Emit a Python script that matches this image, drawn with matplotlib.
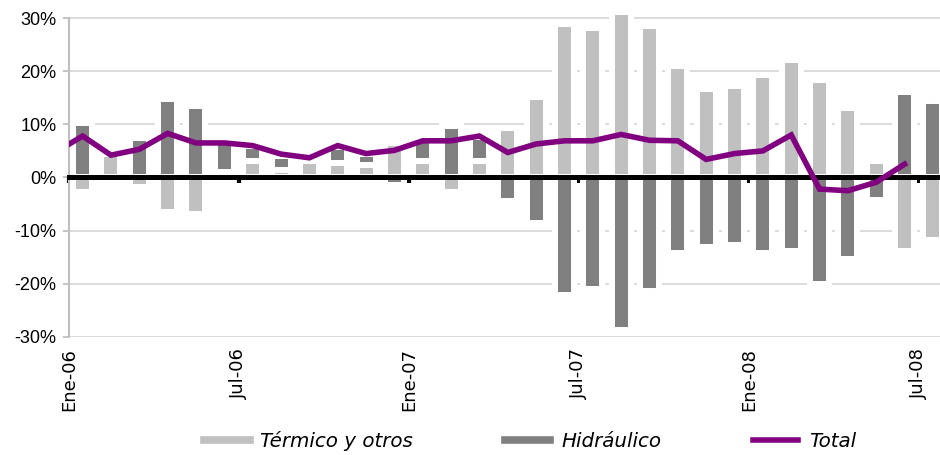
import numpy as np
import matplotlib
matplotlib.use("Agg")
import matplotlib.pyplot as plt
from matplotlib.lines import Line2D

# monthly series, Ene-06 .. Jul-08 (% y/y)
meses = ["Ene-06", "Feb-06", "Mar-06", "Abr-06", "May-06", "Jun-06", "Jul-06",
         "Ago-06", "Sep-06", "Oct-06", "Nov-06", "Dic-06",
         "Ene-07", "Feb-07", "Mar-07", "Abr-07", "May-07", "Jun-07", "Jul-07",
         "Ago-07", "Sep-07", "Oct-07", "Nov-07", "Dic-07",
         "Ene-08", "Feb-08", "Mar-08", "Abr-08", "May-08", "Jun-08", "Jul-08"]
termico = [-2.8, 4.4, -1.8, -6.6, -6.9, 1.0, 3.1, 1.4, 3.1, 2.7, 2.3, 6.5,
           3.1, -2.8, 3.1, 9.3, 15.1, 28.9, 28.2, 36.8, 28.6, 21.0, 16.6, 17.3,
           19.3, 22.1, 18.3, 13.1, 3.1, -13.8, -11.8]
hidraulico = [10.3, -0.2, 7.5, 14.8, 13.5, 5.6, 2.8, 2.6, 0.7, 3.1, 2.1, -1.5,
              3.9, 9.6, 4.5, -4.5, -8.6, -22.1, -21.1, -28.7, -21.4, -14.2, -13.1, -12.8,
              -14.2, -13.8, -20.1, -15.3, -4.2, 16.1, 14.4]
# total starts one month earlier (Dic-05), last month not available
total = [4.6,
         7.8, 4.2, 5.3, 8.3, 6.5, 6.5, 6.0, 4.4, 3.7, 6.0, 4.5, 5.1,
         6.9, 6.9, 7.8, 4.7, 6.3, 6.9, 6.9, 8.1, 7.0, 6.9, 3.4, 4.5,
         5.0, 8.0, -2.2, -2.5, -0.9, 2.5, np.nan]
tick_labels = ["Ene-06", "Jul-06", "Ene-07", "Jul-07", "Ene-08", "Jul-08"]
y_ticks = [-30, -20, -10, 0, 10, 20, 30]

LIGHT = "#c0c0c0"
DARK = "#808080"
PURPLE = "#800080"

t = np.array(termico)
h = np.array(hidraulico)
x = np.arange(len(meses)) + 0.48
x_tot = np.arange(len(total)) - 0.52
# excel-like stacking: same sign stacks, opposite signs both start at 0
h_bottom = np.where(np.sign(t) == np.sign(h), t, 0)

fig = plt.figure(figsize=(9.4, 4.55), dpi=100)
ax = fig.add_axes([69 / 940, 1 - 336.7 / 455, 1 - 69 / 940, (336.7 - 15) / 455])

ax.bar(x, t, width=0.67, color=LIGHT, edgecolor="white", linewidth=4.3, zorder=2)
ax.bar(x, h, width=0.67, bottom=h_bottom, color=DARK, edgecolor="white",
       linewidth=4.3, zorder=2)
ax.plot(x_tot, total, color=PURPLE, lw=4, zorder=4, solid_joinstyle="miter")

ax.set_xlim(0, 30.73)
ax.set_ylim(-30, 30.6)
ax.set_yticks(y_ticks)
ax.set_yticklabels([f"{v}%" for v in y_ticks], family="Liberation Sans",
                   fontsize=13)
ax.yaxis.grid(True, color="#d9d9d9", lw=1.3, zorder=0)
ax.set_axisbelow(True)
ax.tick_params(axis="y", length=4, color="#bfbfbf", width=1.3, pad=5)

for s in ["top", "right"]:
    ax.spines[s].set_visible(False)
ax.spines["left"].set_color("#bfbfbf")
ax.spines["left"].set_linewidth(1.5)
ax.spines["left"].set_bounds(-30, 30)

# category axis crosses at zero, labels at the bottom
ax.spines["bottom"].set_position(("data", 0))
ax.spines["bottom"].set_color("black")
ax.spines["bottom"].set_linewidth(3.6)
ax.spines["bottom"].set_zorder(3)
ticks = np.arange(0, 31, 6)
ax.set_xticks(ticks)
ax.tick_params(axis="x", direction="out", length=4, width=3, color="black",
               labelbottom=False)

sec = ax.secondary_xaxis("bottom")
sec.set_xticks(ticks)
sec.set_xticklabels(tick_labels, rotation=90, fontsize=13, family="DejaVu Sans")
sec.tick_params(length=0, pad=8)
sec.spines["bottom"].set_visible(False)

handles = [Line2D([], [], color=LIGHT, lw=5.5),
           Line2D([], [], color=DARK, lw=5.5),
           Line2D([], [], color=PURPLE, lw=4)]
fig.legend(handles, ["Térmico y otros", "Hidráulico", "Total"],
           loc="center", bbox_to_anchor=(0.564, 1 - 441 / 455), ncol=3,
           frameon=False, handlelength=2.3, handletextpad=0.55, columnspacing=4.6,
           prop={"family": "DejaVu Sans", "style": "italic", "size": 14.3})

fig.savefig("out.png", dpi=100)
